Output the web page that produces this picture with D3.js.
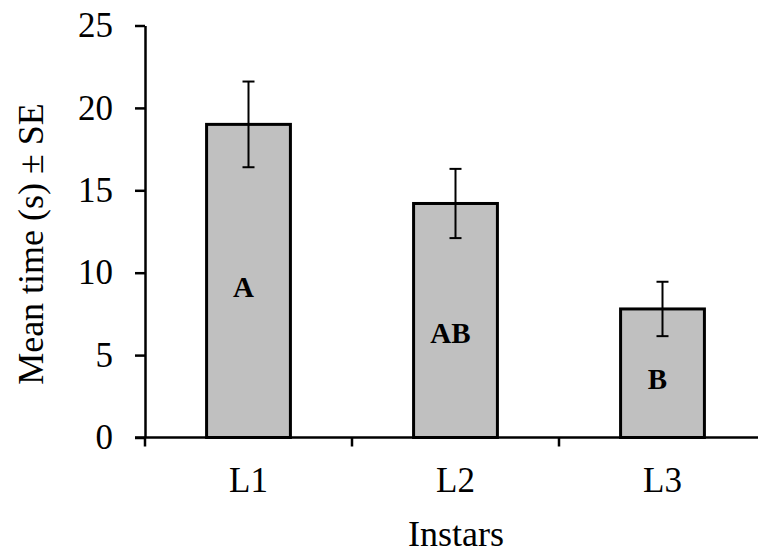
<!DOCTYPE html>
<html><head><meta charset="utf-8">
<script src="https://cdn.jsdelivr.net/npm/d3@7"></script>
<style>body{margin:0;background:#fff}</style>
</head><body>
<script>
const categories = ["L1","L2","L3"];
const means = [19.0, 14.2, 7.8];
const errors = [2.6, 2.1, 1.65];
const letters = ["A","AB","B"];
const letterPos = [9.1, 6.3, 3.5];
const yTicks = [0,5,10,15,20,25];

const W=758,H=556;
const svg=d3.select("body").append("svg").attr("width",W).attr("height",H);
const x0=145, x1=766, yTop=25.5, yBot=437.5;
const x=d3.scaleBand().domain(categories).range([x0,x1]).paddingInner(0.595).paddingOuter(0.2975);
const y=d3.scaleLinear().domain([0,25]).range([yBot,yTop]);
const font="'Liberation Serif','Times New Roman',serif";

// bars
svg.selectAll("rect.bar").data(categories).join("rect")
 .attr("x",d=>x(d)).attr("width",x.bandwidth())
 .attr("y",(d,i)=>y(means[i])).attr("height",(d,i)=>y(0)-y(means[i]))
 .attr("fill","#c0c0c0").attr("stroke","#000").attr("stroke-width",3);

// error bars
const cap=6;
categories.forEach((c,i)=>{
  const cx=x(c)+x.bandwidth()/2;
  const g=svg.append("g").attr("stroke","#000").attr("stroke-width",2);
  g.append("line").attr("x1",cx).attr("x2",cx).attr("y1",y(means[i]+errors[i])).attr("y2",y(means[i]-errors[i]));
  g.append("line").attr("x1",cx-cap).attr("x2",cx+cap).attr("y1",y(means[i]+errors[i])).attr("y2",y(means[i]+errors[i]));
  g.append("line").attr("x1",cx-cap).attr("x2",cx+cap).attr("y1",y(means[i]-errors[i])).attr("y2",y(means[i]-errors[i]));
  svg.append("text").attr("x",cx-5).attr("y",y(letterPos[i])).attr("text-anchor","middle")
   .attr("dy","0.33em").attr("font-family",font).attr("font-weight","bold")
   .attr("font-size",29).text(letters[i]);
});

// y axis
const yAxis=svg.append("g").attr("transform",`translate(${x0},0)`)
 .call(d3.axisLeft(y).tickValues(yTicks).tickSize(10).tickPadding(22).tickSizeOuter(0));
yAxis.select(".domain").attr("stroke-width",2.5);
yAxis.selectAll(".tick line").attr("stroke-width",2.5);
yAxis.selectAll("text").attr("font-family",font).attr("font-size",35).attr("fill","#000");

// x axis
const xAxis=svg.append("g").attr("transform",`translate(0,${yBot})`)
 .call(d3.axisBottom(x).tickSize(0).tickPadding(30));
xAxis.select(".domain").attr("d",`M${x0-10},0H${x1}`).attr("stroke-width",2.5);
xAxis.selectAll("text").attr("font-family",font).attr("font-size",35).attr("fill","#000");
const bounds=[x0, x0+(x1-x0)/3, x0+2*(x1-x0)/3];
svg.append("g").selectAll("line").data(bounds).join("line")
 .attr("x1",d=>d).attr("x2",d=>d).attr("y1",yBot).attr("y2",yBot+9)
 .attr("stroke","#000").attr("stroke-width",2.5);

// titles
svg.append("text").attr("transform",`translate(43,244) rotate(-90)`)
 .attr("text-anchor","middle").attr("font-family",font).attr("font-size",36).text("Mean time (s) ± SE");
svg.append("text").attr("x",456).attr("y",546).attr("text-anchor","middle")
 .attr("font-family",font).attr("font-size",36).text("Instars");
</script>
</body></html>
